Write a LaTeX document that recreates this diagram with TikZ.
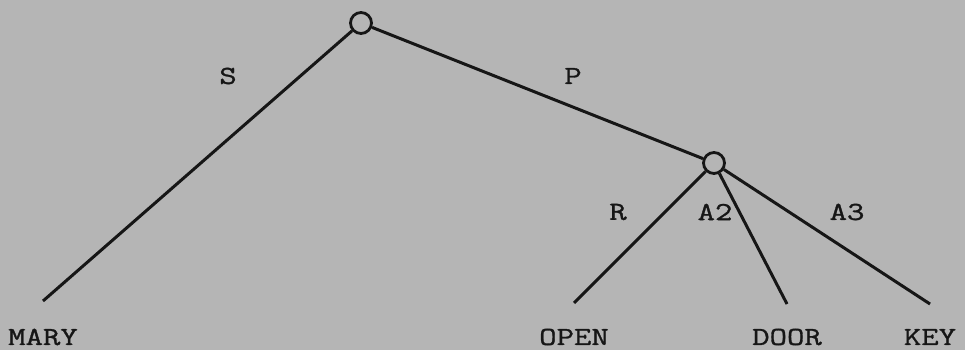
\documentclass[tikz,border=0pt]{standalone}
\usepackage{fontspec}
\setmonofont{Latin Modern Mono}[FakeStretch=1.3, FakeBold=1.2]
\usepackage{xcolor}
\usepackage{tikz}
\usetikzlibrary{positioning}

\definecolor{paper}{RGB}{181,181,181}
\definecolor{ink}{RGB}{22,22,22}

\begin{document}
\begin{tikzpicture}[
    x=1pt, y=-1pt,
    every node/.style={font=\ttfamily\fontsize{26}{28}\selectfont, text=ink},
    knot/.style={circle, draw=ink, line width=2.8pt, minimum size=21pt, inner sep=0pt},
    arc/.style={draw=ink, line width=3pt},
    word/.style={inner sep=0pt},
    role/.style={inner sep=0pt},
]

% Background
\fill[paper] (0,0) rectangle (965,350);
\useasboundingbox (0,0) rectangle (965,350);

% Knots
\node[knot] (root) at (361,23) {};
\node[knot] (pred) at (714,163) {};

% Free ends of the arcs
\coordinate (maryend) at (43,301);
\coordinate (openend) at (574,303);
\coordinate (doorend) at (787,304);
\coordinate (keyend) at (930,304);

% Arcs
\draw[arc] (root) -- (maryend);
\draw[arc] (root) -- (pred);
\draw[arc] (pred) -- (openend);
\draw[arc] (pred) -- (doorend);
\draw[arc] (pred) -- (keyend);

% Role labels
\node[role] (s) at (228,76) {S};
\node[role] (p) at (573,76) {P};
\node[role] (r) at (618,212) {R};
\node[role] (atwo) at (715,212) {A2};
\node[role] (athree) at (847,212) {A3};

% Leaf words
\node[word] (mary) at (43,337) {MARY};
\node[word] (open) at (574,337) {OPEN};
\node[word] (door) at (787,337) {DOOR};
\node[word] (key) at (930,337) {KEY};

\end{tikzpicture}
\end{document}
